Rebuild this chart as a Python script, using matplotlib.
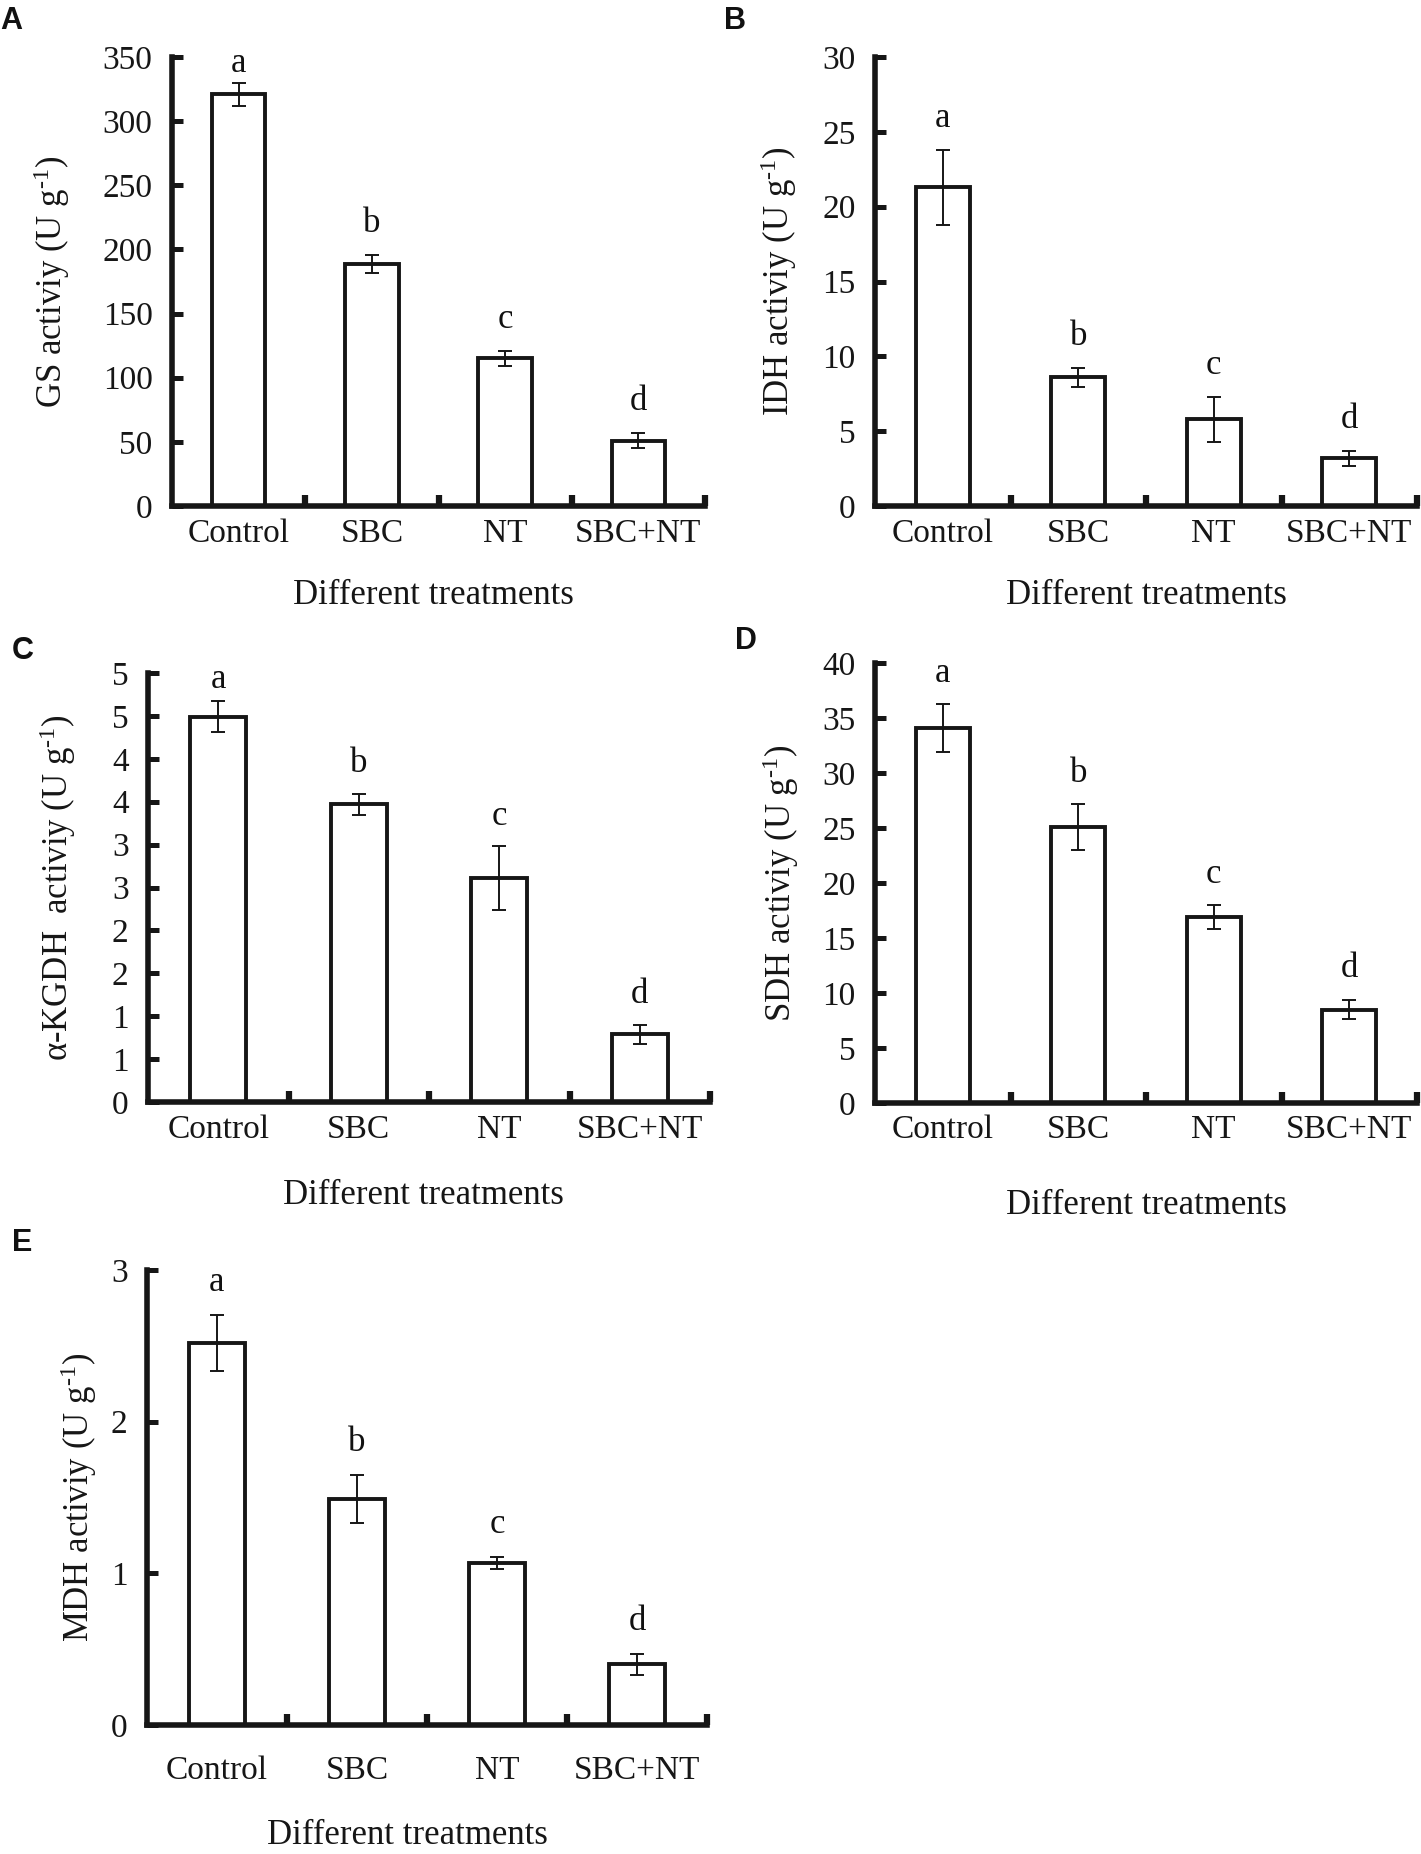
import matplotlib
matplotlib.use("Agg")
import matplotlib.pyplot as plt
import numpy as np

plt.rcParams['font.family'] = ['Liberation Serif', 'DejaVu Serif']
plt.rcParams['mathtext.fontset'] = 'custom'
plt.rcParams['mathtext.rm'] = 'Liberation Serif'
plt.rcParams['mathtext.it'] = 'Liberation Serif:italic'

# ---------------- data ----------------
categories = ["Control", "SBC", "NT", "SBC+NT"]
letters = ["a", "b", "c", "d"]

gs_mean = [321, 189, 115, 51]
gs_err = [9, 7, 6, 6]
gs_ticks = [0, 50, 100, 150, 200, 250, 300, 350]
gs_ticklabels = ["0", "50", "100", "150", "200", "250", "300", "350"]

idh_mean = [21.3, 8.6, 5.8, 3.2]
idh_err = [2.5, 0.65, 1.5, 0.5]
idh_ticks = [0, 5, 10, 15, 20, 25, 30]
idh_ticklabels = ["0", "5", "10", "15", "20", "25", "30"]

kgdh_mean = [4.49, 3.47, 2.61, 0.79]
kgdh_err = [0.18, 0.12, 0.37, 0.11]
kgdh_ticks = [0, 0.5, 1, 1.5, 2, 2.5, 3, 3.5, 4, 4.5, 5]
kgdh_ticklabels = ["0", "1", "1", "2", "2", "3", "3", "4", "4", "5", "5"]

sdh_mean = [34.1, 25.1, 16.9, 8.5]
sdh_err = [2.15, 2.1, 1.1, 0.9]
sdh_ticks = [0, 5, 10, 15, 20, 25, 30, 35, 40]
sdh_ticklabels = ["0", "5", "10", "15", "20", "25", "30", "35", "40"]

mdh_mean = [2.52, 1.49, 1.07, 0.40]
mdh_err = [0.185, 0.16, 0.04, 0.07]
mdh_ticks = [0, 1, 2, 3]
mdh_ticklabels = ["0", "1", "2", "3"]

xlabel = "Different treatments"
unit = r"(U g$^{\text{-1}}$)"

W, H = 1421, 1854
fig = plt.figure(figsize=(W / 100, H / 100), dpi=100)
fig.patch.set_facecolor("white")


def frac(left, right, top, bottom):
    return [left / W, 1 - bottom / H, (right - left) / W, (bottom - top) / H]


panels = [
    dict(tag="A", rect=frac(172, 705, 57, 506), mean=gs_mean, err=gs_err,
         ticks=gs_ticks, tlabels=gs_ticklabels,
         ylabel="GS activiy " + unit, ydist=120,
         xlab_off=89, xpad=9, xlab_x=0.49, tagpos=(0, 21)),
    dict(tag="B", rect=frac(875, 1417, 57, 506), mean=idh_mean, err=idh_err,
         ticks=idh_ticks, tlabels=idh_ticklabels,
         ylabel="IDH activiy " + unit, ydist=96,
         xlab_off=89, xpad=9, xlab_x=0.5, tagpos=(724, 21)),
    dict(tag="C", rect=frac(148, 710, 673, 1102), mean=kgdh_mean, err=kgdh_err,
         ticks=kgdh_ticks, tlabels=kgdh_ticklabels,
         ylabel="α-KGDH  activiy " + unit, ydist=90,
         xlab_off=93, xpad=9, xlab_x=0.49, tagpos=(12, 651)),
    dict(tag="D", rect=frac(875, 1417, 663, 1103), mean=sdh_mean, err=sdh_err,
         ticks=sdh_ticks, tlabels=sdh_ticklabels,
         ylabel="SDH activiy " + unit, ydist=94,
         xlab_off=103, xpad=8, xlab_x=0.5, tagpos=(735, 641)),
    dict(tag="E", rect=frac(147, 707, 1270, 1725), mean=mdh_mean, err=mdh_err,
         ticks=mdh_ticks, tlabels=mdh_ticklabels,
         ylabel="MDH activiy " + unit, ydist=68,
         xlab_off=110, xpad=22, xlab_x=0.465, tagpos=(12, 1243)),
]

x = np.arange(len(categories))
edge = "#161616"

for p in panels:
    ax = fig.add_axes(p["rect"])
    ymax = p["ticks"][-1]
    ax.bar(x, p["mean"], width=0.4, color="white", edgecolor=edge,
           linewidth=2.8, zorder=2)
    ax.errorbar(x, p["mean"], yerr=p["err"], fmt="none", ecolor=edge,
                elinewidth=1.4, capsize=5, capthick=1.4, zorder=3)
    for xi, m, e, lt in zip(x, p["mean"], p["err"], letters):
        ly = min(m + e + 0.07 * ymax, 0.985 * ymax)
        ax.text(xi, ly, lt, ha="center", va="center", fontsize=25,
                color="#111111")
    ax.set_xlim(-0.5, 3.5)
    ax.set_ylim(0, ymax)
    for s in ["top", "right"]:
        ax.spines[s].set_visible(False)
    for s in ["left", "bottom"]:
        ax.spines[s].set_linewidth(4)
        ax.spines[s].set_color(edge)
        ax.spines[s].set_capstyle("projecting")
    ax.set_yticks(p["ticks"])
    ax.set_yticklabels(p["tlabels"])
    ax.tick_params(axis="y", direction="in", length=8, width=3.6,
                   labelsize=24, pad=14, colors=edge)
    ax.set_xticks(x)
    ax.set_xticklabels(categories)
    ax.tick_params(axis="x", which="major", length=0, labelsize=24,
                   pad=p["xpad"], colors=edge)
    ax.set_xticks([0.5, 1.5, 2.5, 3.5], minor=True)
    ax.tick_params(axis="x", which="minor", direction="in", length=8,
                   width=4.5, color=edge)
    axw = p["rect"][2] * W
    axh = p["rect"][3] * H
    ax.set_ylabel(p["ylabel"], fontsize=25, color=edge)
    ax.yaxis.set_label_coords(-p["ydist"] / axw, 0.5)
    ax.yaxis.label.set_va("center")
    ax.set_xlabel(xlabel, fontsize=25, color=edge)
    ax.xaxis.set_label_coords(p["xlab_x"], -p["xlab_off"] / axh)
    ax.xaxis.label.set_va("center")
    tx, ty = p["tagpos"]
    fig.text(tx / W, 1 - ty / H, p["tag"], fontsize=22, fontweight="bold",
             family=["Liberation Sans", "DejaVu Sans"], ha="left",
             va="center", color="#111111")

fig.savefig("out.png", dpi=100, facecolor="white")
